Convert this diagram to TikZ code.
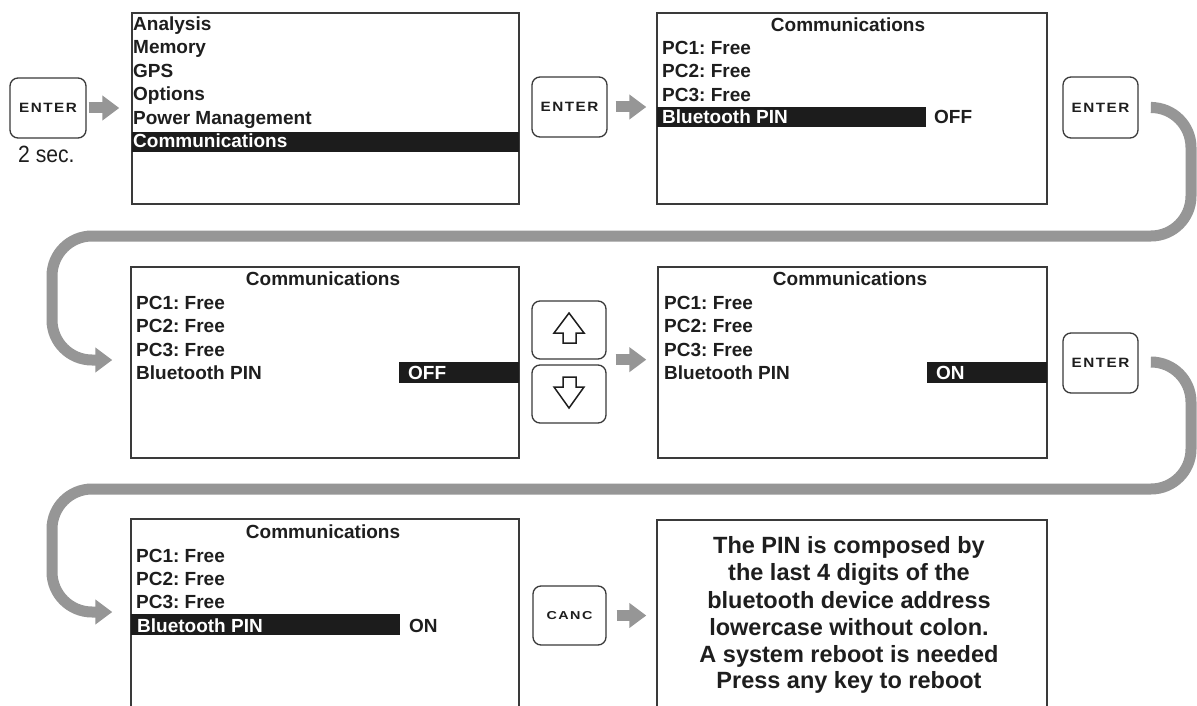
\documentclass[tikz,border=0pt]{standalone}
\usepackage{fontspec}
\usepackage{graphicx}
\setmainfont{Liberation Sans}
\frenchspacing
\usetikzlibrary{arrows.meta}
\definecolor{garr}{HTML}{969696}
\definecolor{ink}{HTML}{1e1e1e}
\definecolor{bord}{HTML}{3a3a3a}
\definecolor{barc}{HTML}{1c1c1c}
\newcommand\keylabel[1]{\scalebox{1.13}[1]{#1}}
\newcommand\canclabel[1]{\scalebox{1.25}[1]{#1}}
\tikzset{
  screen/.style={draw=bord, line width=1.4pt, inner sep=0pt, fill=white},
  keybox/.style={draw=bord, line width=1.3pt, rounded corners=8pt, inner sep=0pt, fill=white, text=ink},
  entertxt/.style={font=\fontsize{13.5}{13.5}\selectfont\bfseries\addfontfeatures{LetterSpace=10}},
  canctxt/.style={font=\fontsize{11.5}{11.5}\selectfont\bfseries\addfontfeatures{LetterSpace=10}},
  stxt/.style={anchor=base west, inner sep=0pt, text=ink, font=\fontsize{19}{19}\selectfont\bfseries},
  sttl/.style={anchor=base, inner sep=0pt, text=ink, font=\fontsize{19}{19}\selectfont\bfseries},
  itxt/.style={anchor=base, inner sep=0pt, text=ink, font=\fontsize{23.5}{23.5}\selectfont\bfseries},
  hbar/.style={fill=barc, draw=none},
  garrow/.style={draw=garr, line width=11pt, -{Triangle[length=17pt,width=24pt]}},
  gconn/.style={garrow, rounded corners=40pt},
  icon/.style={draw=ink, line width=1.5pt, line join=miter, fill=white}
}
\begin{document}
\begin{tikzpicture}[x=1pt, y=-1pt]
\useasboundingbox (0,0) rectangle (1197,706);
\clip (0,0) rectangle (1197,706);
\fill[white] (0,0) rectangle (1197,706);

% ---------- screens ----------
\node[screen, minimum width=387pt, minimum height=191pt] (s1) at (325.5,108.5) {};
\node[screen, minimum width=390pt, minimum height=191pt] (s2) at (852,108.5) {};
\node[screen, minimum width=388pt, minimum height=191pt] (s3) at (325,362.5) {};
\node[screen, minimum width=389pt, minimum height=191pt] (s4) at (852.5,362.5) {};
\node[screen, minimum width=388pt, minimum height=191pt] (s5) at (325,614.5) {};
\node[screen, minimum width=390pt, minimum height=191pt] (s6) at (852,615.5) {};

% ---------- keys ----------
\node[keybox, minimum width=76pt, minimum height=60pt, entertxt] (k1) at (48,108) {\keylabel{ENTER}};
\node[keybox, minimum width=75pt, minimum height=60pt, entertxt] (k2) at (569.5,107) {\keylabel{ENTER}};
\node[keybox, minimum width=75pt, minimum height=61pt, entertxt] (k3) at (1100.5,107.5) {\keylabel{ENTER}};
\node[keybox, minimum width=75pt, minimum height=60pt, entertxt] (k4) at (1100.5,363) {\keylabel{ENTER}};
\node[keybox, minimum width=74pt, minimum height=58pt] (up) at (569,330) {};
\node[keybox, minimum width=74pt, minimum height=58pt] (down) at (569,394) {};
\node[keybox, minimum width=73pt, minimum height=59pt, canctxt] (canc) at (569.5,615.5) {\canclabel{CANC}};

\node[anchor=base west, inner sep=0pt, text=ink, font=\fontsize{23.5}{23.5}\selectfont] (sec) at (18,163) {\scalebox{0.9}[1]{2 sec.}};

% up / down icons
\draw[icon] (569,313) -- (584,333) -- (576,333) -- (576,343) -- (563,343) -- (563,333) -- (554,333) -- cycle;
\draw[icon] (563,377) -- (576,377) -- (576,387) -- (584,387) -- (569,408) -- (554,387) -- (563,387) -- cycle;

% ---------- screen 1 ----------
\fill[hbar] (132,132) rectangle (519,152);
\node[stxt] at (133,31) {Analysis};
\node[stxt] at (133,54) {Memory};
\node[stxt] at (133,78) {GPS};
\node[stxt] at (133,101) {Options};
\node[stxt] at (133,125) {Power Management};
\node[stxt, text=white] at (133,148) {Communications};

% ---------- screen 2 ----------
\fill[hbar] (657,107) rectangle (926,127);
\node[sttl] at (848,32) {Communications};
\node[stxt] at (662,55) {PC1: Free};
\node[stxt] at (662,78) {PC2: Free};
\node[stxt] at (662,102) {PC3: Free};
\node[stxt, text=white] at (662,124) {Bluetooth PIN};
\node[stxt] at (934,124) {OFF};

% ---------- screen 3 ----------
\fill[hbar] (399,362) rectangle (519,383);
\node[sttl] at (323,285) {Communications};
\node[stxt] at (136,309) {PC1: Free};
\node[stxt] at (136,332) {PC2: Free};
\node[stxt] at (136,356) {PC3: Free};
\node[stxt] at (136,379) {Bluetooth PIN};
\node[stxt, text=white] at (408,379) {OFF};

% ---------- screen 4 ----------
\fill[hbar] (927,362) rectangle (1047,383);
\node[sttl] at (850,285) {Communications};
\node[stxt] at (664,309) {PC1: Free};
\node[stxt] at (664,332) {PC2: Free};
\node[stxt] at (664,356) {PC3: Free};
\node[stxt] at (664,379) {Bluetooth PIN};
\node[stxt, text=white] at (936,379) {ON};

% ---------- screen 5 ----------
\fill[hbar] (131,614) rectangle (400,635);
\node[sttl] at (323,538) {Communications};
\node[stxt] at (136,562) {PC1: Free};
\node[stxt] at (136,585) {PC2: Free};
\node[stxt] at (136,608) {PC3: Free};
\node[stxt, text=white] at (137,632) {Bluetooth PIN};
\node[stxt] at (409,632) {ON};

% ---------- screen 6 ----------
\node[itxt] at (849,553) {The PIN is composed by};
\node[itxt] at (849,580) {the last 4 digits of the};
\node[itxt] at (849,608) {bluetooth device address};
\node[itxt] at (849,635) {lowercase without colon.};
\node[itxt] at (849,662) {A system reboot is needed};
\node[itxt] at (849,688) {Press any key to reboot};

% ---------- straight arrows ----------
\draw[garrow] ([xshift=2pt]k1.east) -- ([xshift=-12pt]s1.west |- k1.east);
\draw[garrow] ([xshift=8pt]k2.east) -- ([xshift=-10pt]s2.west |- k2.east);
\draw[garrow] ([xshift=9pt]up.south east) -- ([xshift=-11pt]s4.west |- up.south east);
\draw[garrow] ([xshift=10pt]canc.east) -- ([xshift=-10pt]s6.west |- canc.east);

% ---------- curved connectors ----------
\coordinate (c1) at (1191,236);
\coordinate (c2) at (52,236);
\coordinate (c3) at (1191,489);
\coordinate (c4) at (52,489);
\draw[gconn] ([xshift=14pt]k3.east) -| (c1) -- (c2) |- ([xshift=-18pt,yshift=2.5pt]s3.west);
\draw[gconn] ([xshift=14pt,yshift=1pt]k4.east) -| (c3) -- (c4) |- ([xshift=-18pt,yshift=2.5pt]s5.west);
\end{tikzpicture}
\end{document}
